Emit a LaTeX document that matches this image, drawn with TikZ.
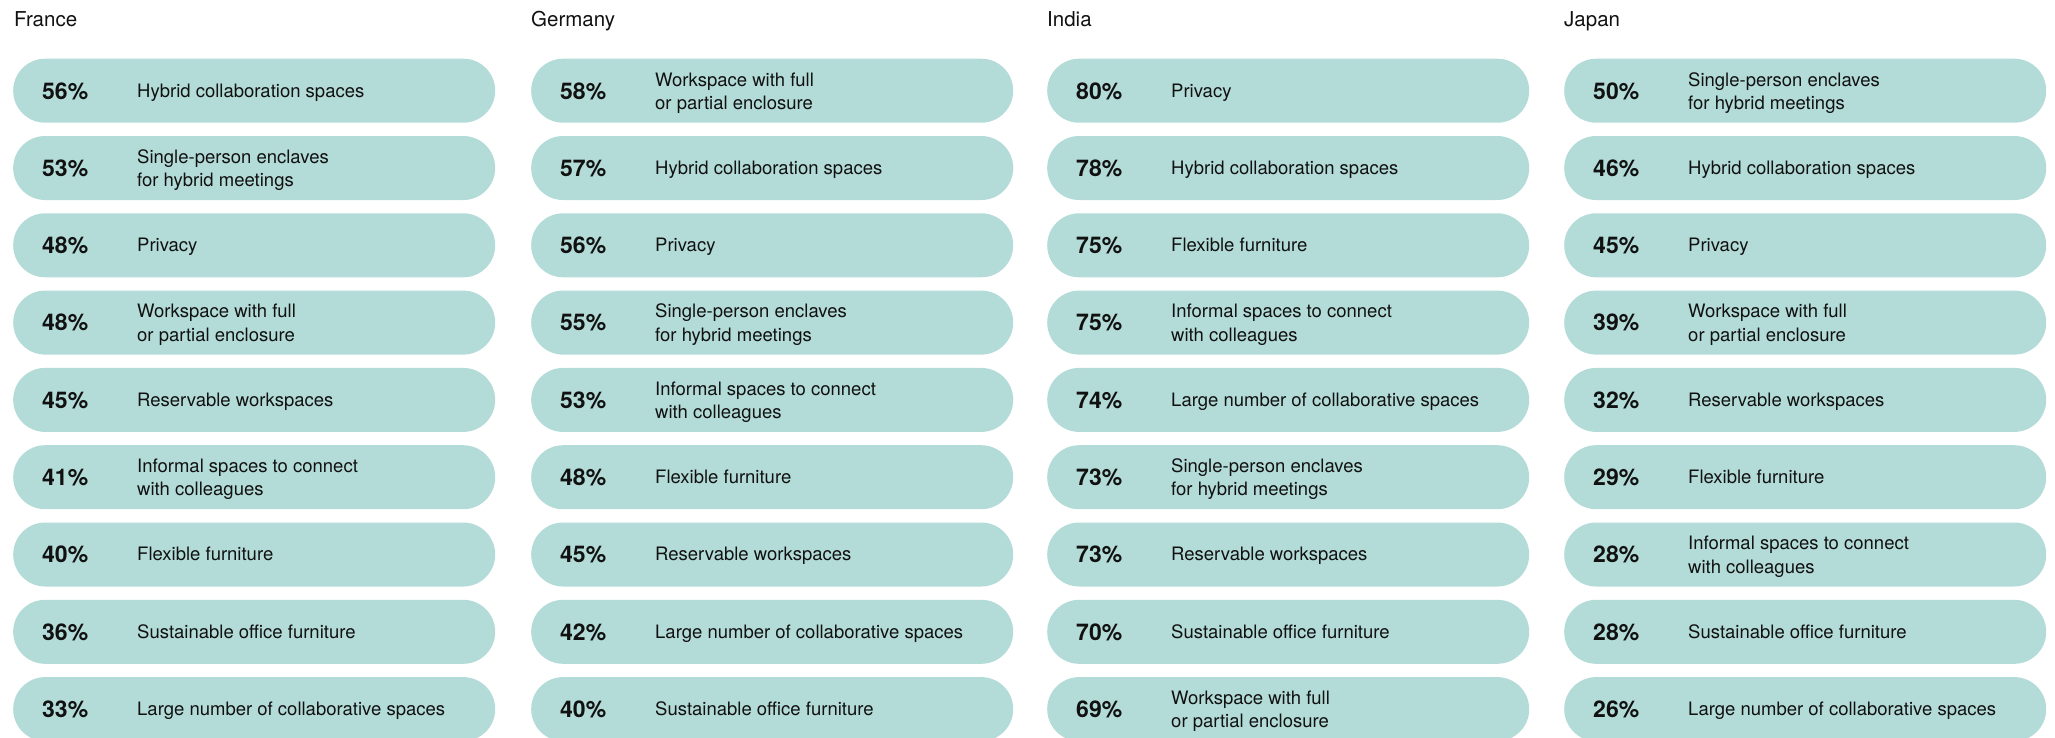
\documentclass[tikz,border=0pt]{standalone}
\usepackage{fontspec}
\setmainfont{TeX Gyre Heros}
\definecolor{pillc}{HTML}{B3DCD8}
\definecolor{inkc}{HTML}{111111}
\tikzset{
  pillbox/.style={fill=pillc, draw=none, minimum width=482pt, minimum height=64pt, rounded corners=31.9pt, inner sep=0pt, anchor=west},
  pct/.style={inner sep=0pt, anchor=base west, text=inkc, font=\bfseries\fontsize{23}{27}\selectfont},
  lbl/.style={inner sep=0pt, anchor=base west, text=inkc, font=\fontsize{18.5}{23.3}\selectfont},
  ttl/.style={inner sep=0pt, anchor=base west, text=inkc, font=\fontsize{20.5}{24}\selectfont},
}
\newcommand\pillA[5]{%
  \pgfmathsetmacro\cy{90.7+77.3*#3}%
  \node[pillbox] (#1) at (#2,\cy) {};
  \node[pct] (#1p) at (#2+29,\cy+8.3) {#4\%};
  \node[lbl] (#1l) at (#2+124,\cy+6.3) {#5};
}
\newcommand\pillB[6]{%
  \pgfmathsetmacro\cy{90.7+77.3*#3}%
  \node[pillbox] (#1) at (#2,\cy) {};
  \node[pct] (#1p) at (#2+29,\cy+8.3) {#4\%};
  \node[lbl] (#1l) at (#2+124,\cy-4.7) {\vtop{\baselineskip=23.3pt\hbox{#5}\hbox{#6}}};
}
\begin{document}
\begin{tikzpicture}[x=1pt,y=-1pt]
\useasboundingbox (0,0) rectangle (2055,737);
\clip (0,0) rectangle (2055,737);
% France
\node[ttl] (tfr) at (14,26) {France};
\pillA{fr0}{13}{0}{56}{Hybrid collaboration spaces}
\pillB{fr1}{13}{1}{53}{Single-person enclaves}{for hybrid meetings}
\pillA{fr2}{13}{2}{48}{Privacy}
\pillB{fr3}{13}{3}{48}{Workspace with full}{or partial enclosure}
\pillA{fr4}{13}{4}{45}{Reservable workspaces}
\pillB{fr5}{13}{5}{41}{Informal spaces to connect}{with colleagues}
\pillA{fr6}{13}{6}{40}{Flexible furniture}
\pillA{fr7}{13}{7}{36}{Sustainable office furniture}
\pillA{fr8}{13}{8}{33}{Large number of collaborative spaces}
% Germany
\node[ttl] (tde) at (531,26) {Germany};
\pillB{de0}{531}{0}{58}{Workspace with full}{or partial enclosure}
\pillA{de1}{531}{1}{57}{Hybrid collaboration spaces}
\pillA{de2}{531}{2}{56}{Privacy}
\pillB{de3}{531}{3}{55}{Single-person enclaves}{for hybrid meetings}
\pillB{de4}{531}{4}{53}{Informal spaces to connect}{with colleagues}
\pillA{de5}{531}{5}{48}{Flexible furniture}
\pillA{de6}{531}{6}{45}{Reservable workspaces}
\pillA{de7}{531}{7}{42}{Large number of collaborative spaces}
\pillA{de8}{531}{8}{40}{Sustainable office furniture}
% India
\node[ttl] (tin) at (1047,26) {India};
\pillA{in0}{1047}{0}{80}{Privacy}
\pillA{in1}{1047}{1}{78}{Hybrid collaboration spaces}
\pillA{in2}{1047}{2}{75}{Flexible furniture}
\pillB{in3}{1047}{3}{75}{Informal spaces to connect}{with colleagues}
\pillA{in4}{1047}{4}{74}{Large number of collaborative spaces}
\pillB{in5}{1047}{5}{73}{Single-person enclaves}{for hybrid meetings}
\pillA{in6}{1047}{6}{73}{Reservable workspaces}
\pillA{in7}{1047}{7}{70}{Sustainable office furniture}
\pillB{in8}{1047}{8}{69}{Workspace with full}{or partial enclosure}
% Japan
\node[ttl] (tjp) at (1564,26) {Japan};
\pillB{jp0}{1564}{0}{50}{Single-person enclaves}{for hybrid meetings}
\pillA{jp1}{1564}{1}{46}{Hybrid collaboration spaces}
\pillA{jp2}{1564}{2}{45}{Privacy}
\pillB{jp3}{1564}{3}{39}{Workspace with full}{or partial enclosure}
\pillA{jp4}{1564}{4}{32}{Reservable workspaces}
\pillA{jp5}{1564}{5}{29}{Flexible furniture}
\pillB{jp6}{1564}{6}{28}{Informal spaces to connect}{with colleagues}
\pillA{jp7}{1564}{7}{28}{Sustainable office furniture}
\pillA{jp8}{1564}{8}{26}{Large number of collaborative spaces}
\end{tikzpicture}
\end{document}
